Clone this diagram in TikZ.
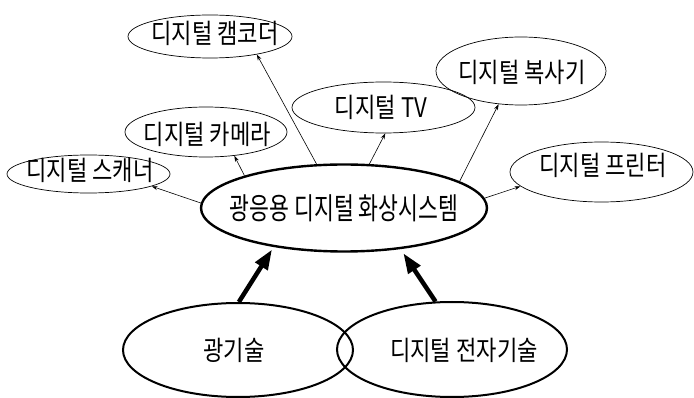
\documentclass[tikz,border=0pt]{standalone}
\usepackage{fontspec}
\usetikzlibrary{shapes.geometric,arrows.meta}
\newfontfamily\krfont[FakeStretch=0.82]{Noto Sans CJK KR}
\newfontfamily\krmain[FakeStretch=0.72]{Noto Sans CJK KR}
\tikzset{
  outer/.style={ellipse,draw,line width=0.7pt,inner sep=0pt},
  mainell/.style={ellipse,draw,line width=2.4pt,inner sep=0pt},
  base/.style={ellipse,draw,line width=2pt,inner sep=0pt},
  lbl/.style={inner sep=0pt,font=\krfont\fontsize{27}{30}\selectfont},
  mainlbl/.style={inner sep=0pt,font=\krmain\fontsize{30}{33}\selectfont},
  conn/.style={line width=0.6pt,-{Stealth[length=6pt,width=4pt]}},
  thick arrow/.style={line width=4.5pt,-{Triangle[length=20pt,width=14pt]}}
}
\begin{document}
\begin{tikzpicture}[x=1pt,y=-1pt]
\useasboundingbox (0,0) rectangle (694,398);
% outer ellipses
\node[outer,minimum width=164pt,minimum height=43pt] (camc) at (210,36.5) {};
\node[lbl] (camct) at (215,33) {디지털 캠코더};
\node[outer,minimum width=162pt,minimum height=50pt] (came) at (206,132) {};
\node[lbl] (camet) at (207.5,134) {디지털 카메라};
\node[outer,minimum width=163pt,minimum height=38pt] (scan) at (88.5,174) {};
\node[lbl] (scant) at (90,170) {디지털 스캐너};
\node[outer,minimum width=183pt,minimum height=51pt] (tv) at (383.5,107.5) {};
\node[lbl] (tvt) at (381,107) {디지털 TV};
\node[outer,minimum width=170pt,minimum height=68pt] (copy) at (521,71) {};
\node[lbl] (copyt) at (522,72) {디지털 복사기};
\node[outer,minimum width=183pt,minimum height=60pt] (prin) at (601.5,172) {};
\node[lbl] (print) at (603,165) {디지털 프린터};
% central
\node[mainell,minimum width=286pt,minimum height=87pt] (sys) at (344,208) {};
\node[mainlbl] (syst) at (344,208) {광응용 디지털 화상시스템};
% bottom
\node[base,minimum width=230pt,minimum height=94pt] (opt) at (238,350) {};
\node[lbl] (optt) at (234,350) {광기술};
\node[base,minimum width=230pt,minimum height=95pt] (ele) at (452,349.5) {};
\node[lbl] (elet) at (464,350) {디지털 전자기술};
% connectors
\draw[conn] (sys.122.7) -- (camc.-21);
\draw[conn] (sys.162.6) -- (came.-40);
\draw[conn] (sys.178) -- (scan.-11);
\draw[conn] (sys.60.8) -- (tv.-86.5);
\draw[conn] (sys.13.3) -- (copy.-124.5);
\draw[conn] (sys.4.1) -- (prin.-170);
% thick arrows
\draw[thick arrow,shorten >=3pt] (opt.89) -- (sys.-151.2);
\draw[thick arrow,shorten >=5pt] (ele.109.5) -- (sys.-36.5);
\end{tikzpicture}
\end{document}
